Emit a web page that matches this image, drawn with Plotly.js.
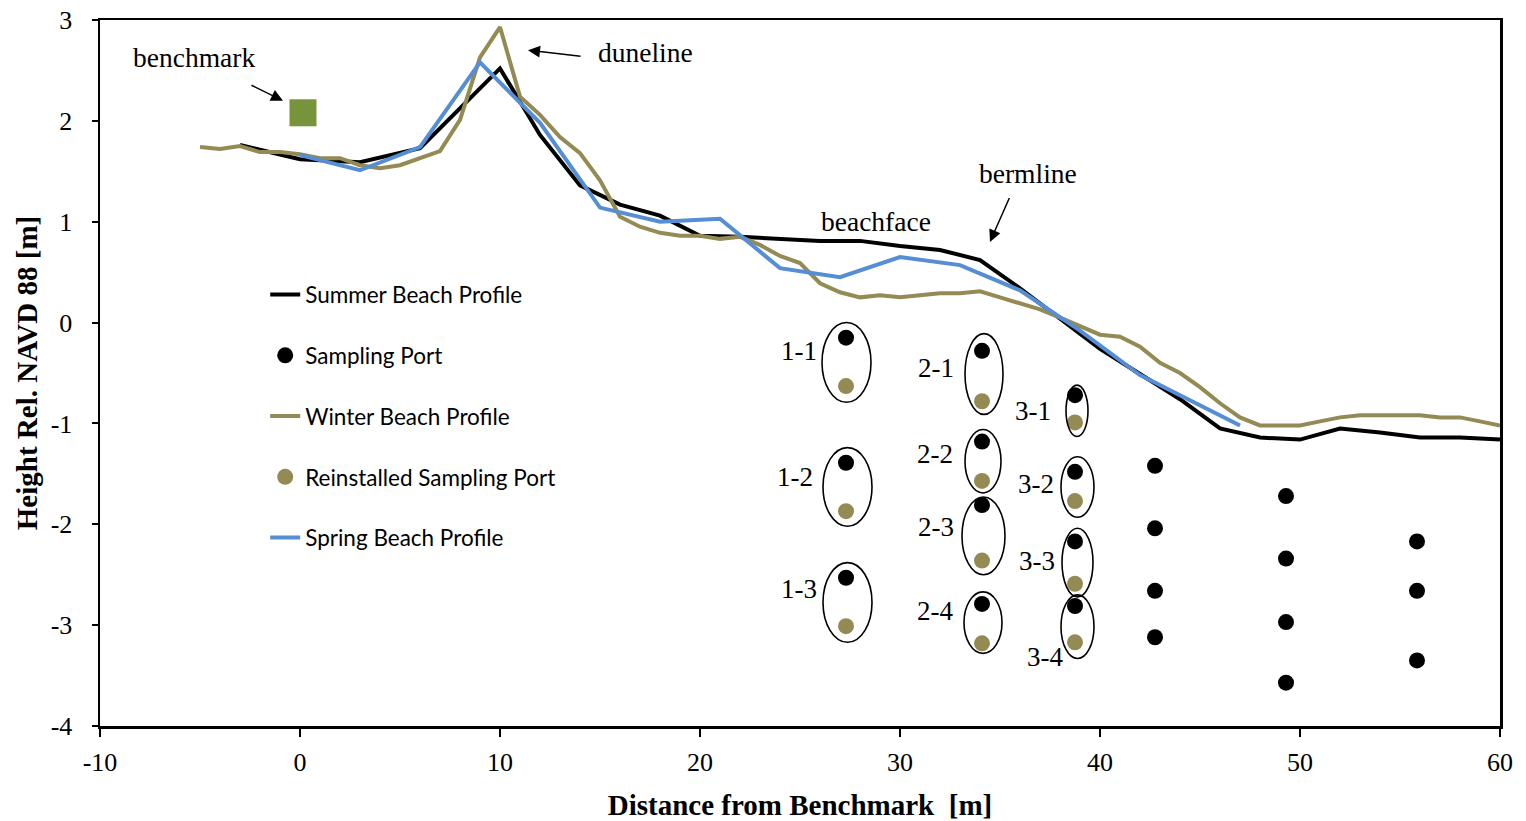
<!DOCTYPE html>
<html><head><meta charset="utf-8">
<script src="https://cdn.plot.ly/plotly-3.0.1.min.js"></script>
<style>html,body{margin:0;padding:0;background:#fff}</style>
</head><body><div id="chart" style="width:1526px;height:821px"></div>
<script>
// Summer beach profile
const summerX = [-3, 0, 3, 6, 10, 12, 14, 16, 18, 20, 22, 24, 26, 28, 30, 32, 34, 36, 38, 40, 42, 44, 46, 48, 50, 52, 54, 56, 58, 60];
const summerY = [1.76, 1.62, 1.59, 1.73, 2.52, 1.86, 1.36, 1.17, 1.06, 0.86, 0.85, 0.83, 0.81, 0.81, 0.76, 0.72, 0.62, 0.34, 0.04, -0.26, -0.51, -0.76, -1.05, -1.14, -1.16, -1.05, -1.09, -1.14, -1.14, -1.16];
// Winter beach profile
const winterX = [-5,-4,-3,-2,-1,0,1,2,3,4,5,6,7,8,9,10,11,12,13,14,15,16,17,18,19,20,21,22,23,24,25,26,27,28,29,30,31,32,33,34,35,36,37,38,39,40,41,42,43,44,45,46,47,48,49,50,51,52,53,54,55,56,57,58,59,60];
const winterY = [1.74,1.72,1.75,1.69,1.69,1.67,1.63,1.63,1.56,1.53,1.56,1.63,1.70,2.01,2.63,2.93,2.24,2.06,1.84,1.68,1.41,1.05,0.95,0.89,0.86,0.86,0.83,0.85,0.77,0.66,0.59,0.39,0.30,0.25,0.27,0.25,0.27,0.29,0.29,0.31,0.25,0.19,0.13,0.05,-0.04,-0.12,-0.14,-0.24,-0.40,-0.50,-0.64,-0.80,-0.94,-1.02,-1.02,-1.02,-0.98,-0.94,-0.92,-0.92,-0.92,-0.92,-0.94,-0.94,-0.98,-1.02];
// Spring beach profile
const springX = [0, 3, 6, 9, 12, 15, 18, 21, 24, 27, 30, 33, 36, 39, 42, 45, 47];
const springY = [1.66, 1.51, 1.74, 2.58, 1.98, 1.14, 1.00, 1.03, 0.54, 0.45, 0.65, 0.57, 0.32, -0.08, -0.52, -0.82, -1.02];
// Sampling ports
const portX = [27.3, 27.3, 27.3, 34.1, 34.1, 34.1, 34.1, 38.75, 38.75, 38.75, 38.75, 42.75, 42.75, 42.75, 42.75, 49.3, 49.3, 49.3, 49.3, 55.85, 55.85, 55.85];
const portY = [-0.15, -1.39, -2.53, -0.28, -1.18, -1.81, -2.79, -0.72, -1.48, -2.17, -2.81, -1.42, -2.04, -2.66, -3.12, -1.72, -2.34, -2.97, -3.57, -2.17, -2.66, -3.35];
// Reinstalled sampling ports
const reinX = [27.3, 27.3, 27.3, 34.1, 34.1, 34.1, 34.1, 38.75, 38.75, 38.75, 38.75];
const reinY = [-0.63, -1.87, -3.01, -0.78, -1.57, -2.36, -3.18, -0.99, -1.77, -2.59, -3.17];
// Benchmark
const benchX = [0.15];
const benchY = [2.08];
// Port group labels and ellipses [x0, x1, y0, y1]
const groupLabels = ["1-1", "1-2", "1-3", "2-1", "2-2", "2-3", "2-4", "3-1", "3-2", "3-3", "3-4"];
const labelX = [24.95, 24.75, 24.95, 31.8, 31.75, 31.8, 31.75, 36.65, 36.8, 36.85, 37.25];
const labelY = [-0.28, -1.53, -2.64, -0.45, -1.30, -2.03, -2.86, -0.88, -1.60, -2.36, -3.32];
const ellipseX0 = [26.1, 26.15, 26.15, 33.25, 33.25, 33.1, 33.2, 38.3, 38.05, 38.1, 38.05];
const ellipseX1 = [28.55, 28.6, 28.6, 35.15, 35.05, 35.25, 35.1, 39.4, 39.7, 39.65, 39.7];
const ellipseY0 = [0.0, -1.24, -2.38, -0.11, -1.06, -1.73, -2.67, -0.62, -1.33, -2.04, -2.70];
const ellipseY1 = [-0.79, -2.02, -3.17, -0.91, -1.69, -2.50, -3.28, -1.13, -1.93, -2.72, -3.33];
// Tick labels
const xTickVals = [-10, 0, 10, 20, 30, 40, 50, 60];
const xTickText = ["-10", "0", "10", "20", "30", "40", "50", "60"];
const yTickVals = [-4, -3, -2, -1, 0, 1, 2, 3];
const yTickText = ["-4", "-3", "-2", "-1", "0", "1", "2", "3"];

const serif = "Liberation Serif, Times New Roman, serif";
const olive = "#948A54";

const traces = [
  {x: summerX, y: summerY, mode: "lines", name: "Summer Beach Profile", legendgroup: "a",
   line: {color: "#000000", width: 4}},
  {x: portX, y: portY, mode: "markers", name: "Sampling Port", legendgroup: "b",
   marker: {color: "#000000", size: 16}},
  {x: winterX, y: winterY, mode: "lines", name: "Winter Beach Profile", legendgroup: "c",
   line: {color: olive, width: 4}},
  {x: reinX, y: reinY, mode: "markers", name: "Reinstalled Sampling Port", legendgroup: "d",
   marker: {color: olive, size: 16}},
  {x: springX, y: springY, mode: "lines", name: "Spring Beach Profile", legendgroup: "e",
   line: {color: "#558ED5", width: 4}},
  {x: benchX, y: benchY, mode: "markers", name: "benchmark", showlegend: false,
   marker: {color: "#77933C", size: 27, symbol: "square"}}
];

const shapes = groupLabels.map((g, i) => ({
  type: "circle", xref: "x", yref: "y",
  x0: ellipseX0[i], x1: ellipseX1[i], y0: ellipseY0[i], y1: ellipseY1[i],
  line: {color: "#000000", width: 1.6}
}));

const annotations = groupLabels.map((g, i) => ({
  x: labelX[i], y: labelY[i], xref: "x", yref: "y", text: g, showarrow: false,
  font: {family: serif, size: 27, color: "#000"}
}));

const textNotes = [
  {text: "benchmark", x: -5.3, y: 2.63},
  {text: "duneline", x: 17.25, y: 2.68},
  {text: "bermline", x: 36.4, y: 1.48},
  {text: "beachface", x: 28.8, y: 1.0}
];
textNotes.forEach(t => annotations.push({x: t.x, y: t.y, xref: "x", yref: "y", text: t.text,
  showarrow: false, font: {family: serif, size: 27.5, color: "#000"}}));

const arrows = [
  {hx: -0.85, hy: 2.2, tx: -2.5, ty: 2.36},
  {hx: 11.4, hy: 2.70, tx: 14.1, ty: 2.64},
  {hx: 34.5, hy: 0.80, tx: 35.5, ty: 1.25}
];
arrows.forEach(a => annotations.push({x: a.hx, y: a.hy, ax: a.tx, ay: a.ty, xref: "x", yref: "y",
  axref: "x", ayref: "y", text: "", showarrow: true, arrowhead: 2, arrowsize: 1.6, arrowwidth: 1.5,
  arrowcolor: "#000"}));

const layout = {
  width: 1526, height: 821,
  margin: {l: 100, r: 26, t: 20, b: 95},
  paper_bgcolor: "#fff", plot_bgcolor: "#fff",
  showlegend: true,
  legend: {x: 0.118, y: 0.641, xanchor: "left", yanchor: "top", bgcolor: "rgba(0,0,0,0)",
    font: {family: "Lato, Open Sans, sans-serif", size: 22.5, color: "#000"}, tracegroupgap: 28.5},
  xaxis: {range: [-10, 60], tickmode: "array", tickvals: xTickVals, ticktext: xTickText,
    showgrid: false, zeroline: false,
    showline: true, linecolor: "#000", linewidth: 2.5, mirror: true,
    ticks: "outside", ticklen: 8, tickwidth: 2, tickcolor: "#000", ticklabelstandoff: 3,
    tickfont: {family: serif, size: 26, color: "#000"},
    title: {text: "<b>Distance from Benchmark  [m]</b>", font: {family: serif, size: 29, color: "#000"}, standoff: 19}},
  yaxis: {range: [-4, 3], tickmode: "array", tickvals: yTickVals, ticktext: yTickText,
    showgrid: false, zeroline: false,
    showline: true, linecolor: "#000", linewidth: 2.5, mirror: true,
    ticks: "outside", ticklen: 6, tickwidth: 2, tickcolor: "#000", ticklabelstandoff: 14,
    tickfont: {family: serif, size: 26, color: "#000"},
    title: {text: "<b>Height Rel. NAVD 88 [m]</b>", font: {family: serif, size: 29, color: "#000"}, standoff: 5}},
  shapes: shapes,
  annotations: annotations
};

Plotly.newPlot("chart", traces, layout, {displayModeBar: false, staticPlot: true});
</script></body></html>
